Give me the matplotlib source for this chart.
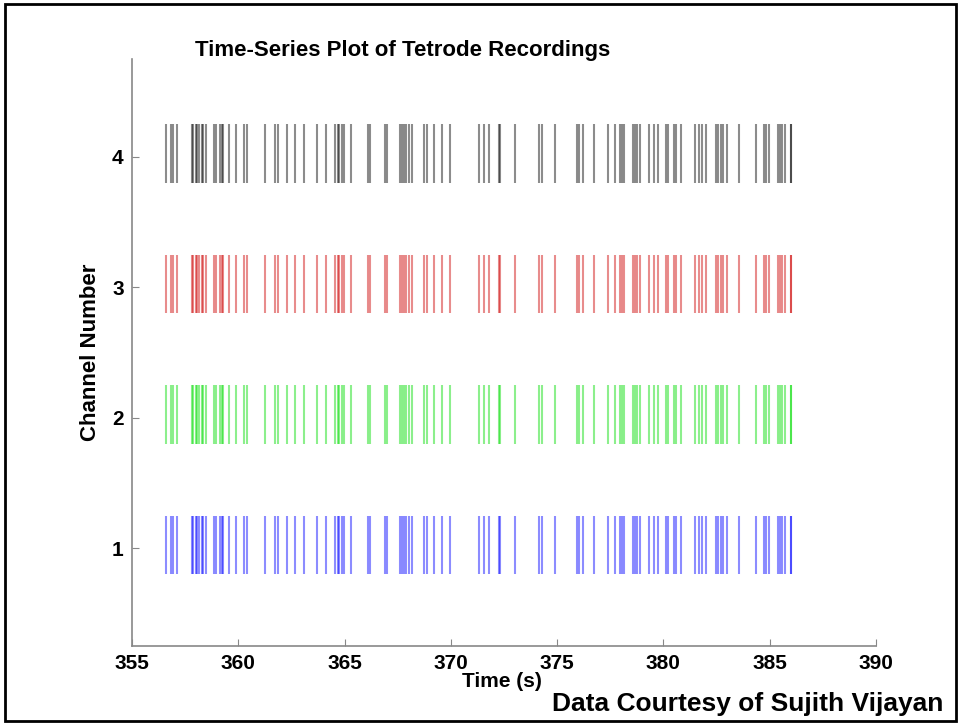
import numpy as np
import matplotlib.pyplot as plt
from matplotlib.patches import Rectangle

# spike times (s), same events seen on all four tetrode wires
spike_times = [
    356.59, 356.84, 356.92, 357.11, 357.81, 357.89, 358.00, 358.08, 358.17,
    358.28, 358.36, 358.47, 358.86, 358.96, 359.15, 359.23, 359.30, 359.58,
    359.90, 360.28, 360.40, 361.26, 361.74, 361.86, 362.29, 362.68, 363.07,
    363.70, 364.14, 364.56, 364.67, 364.76, 364.88, 364.99, 365.30, 366.10,
    366.21, 366.88, 366.99, 367.62, 367.70, 367.78, 367.91, 368.01, 368.17,
    368.72, 368.88, 369.19, 369.59, 369.94,
    371.34, 371.58, 371.78, 372.25, 372.33, 373.04, 374.14, 374.30, 374.92,
    375.95, 376.05, 376.21, 376.73, 377.41, 377.72, 377.94, 378.07, 378.14,
    378.57, 378.66, 378.77, 378.88, 379.32, 379.55, 379.76, 380.14, 380.23,
    380.50, 380.58, 380.81, 381.49, 381.65, 381.80, 381.99, 382.49, 382.59,
    382.70, 382.80, 382.97, 383.56, 384.35, 384.74, 384.82, 384.97, 385.37,
    385.48, 385.60, 385.73, 385.99, 386.01,
]
channels = [1, 2, 3, 4]
colors = ['blue', '#00dd00', '#cc0000', 'black']
xticks = [355, 360, 365, 370, 375, 380, 385, 390]

plt.rcParams['font.family'] = ['Liberation Sans', 'DejaVu Sans']
plt.rcParams['font.weight'] = 'bold'

fig = plt.figure(figsize=(9.6, 7.23), dpi=100)
ax = fig.add_axes([0.1375, 0.1065, 0.775, 0.812])

t = np.array(spike_times)
for ch, c in zip(channels, colors):
    ax.vlines(t, ch - 0.2, ch + 0.25, colors=c, linewidth=1.5, alpha=0.45)

ax.set_xlim(355, 390)
ax.set_ylim(0.25, 4.75)
ax.set_xticks(xticks)
ax.set_yticks(channels)
ax.tick_params(direction='in', length=5, color='#888888', labelsize=15,
               pad=6)
for lab in ax.get_xticklabels() + ax.get_yticklabels():
    lab.set_fontweight('bold')
for side in ['top', 'right']:
    ax.spines[side].set_visible(False)
for side in ['left', 'bottom']:
    ax.spines[side].set_color('#888888')
    ax.spines[side].set_linewidth(1.2)

ax.set_ylabel('Channel Number', fontsize=16, fontweight='bold', labelpad=8)

fig.text(0.203, 0.93, 'Time-Series Plot of Tetrode Recordings', fontsize=16,
         fontweight='bold', va='center', ha='left')
fig.text(0.523, 0.058, 'Time (s)', fontsize=15, fontweight='bold',
         va='center', ha='center')
fig.text(0.575, 0.026, 'Data Courtesy of Sujith Vijayan', fontsize=19,
         fontweight='bold', va='center', ha='left')

# slide-style frame around the whole figure
fig.patches.append(Rectangle((0.005, 0.003), 0.991, 0.992,
                             transform=fig.transFigure, fill=False,
                             edgecolor='black', linewidth=2))

fig.savefig('out.png', dpi=100)
